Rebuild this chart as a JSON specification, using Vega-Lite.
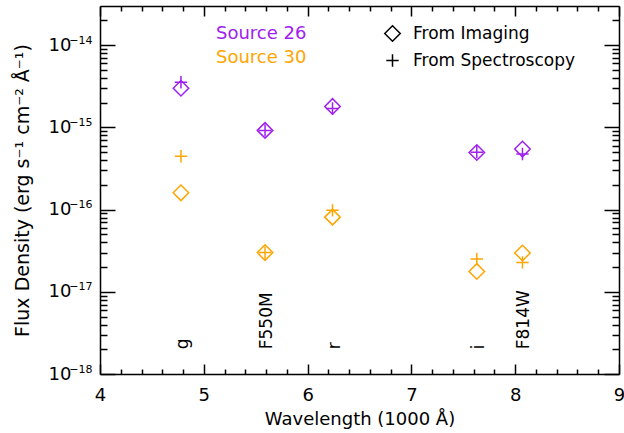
{
  "$schema": "https://vega.github.io/schema/vega-lite/v6.json",
  "autosize": {"type": "none"},
  "padding": {"left": 100, "top": 6, "right": 5, "bottom": 59},
  "width": 519,
  "height": 368,
  "background": "white",
  "config": {
    "view": {"stroke": null},
    "font": "DejaVu Sans",
    "axis": {
      "grid": false,
      "labelFont": "DejaVu Sans",
      "labelFontSize": 18,
      "labelColor": "black",
      "titleFont": "DejaVu Sans",
      "titleFontSize": 18,
      "titleFontWeight": "normal",
      "titleColor": "black",
      "domainColor": "black",
      "domainWidth": 1.5,
      "tickColor": "black",
      "tickWidth": 1.5,
      "labelFlush": false,
      "labelOverlap": false
    }
  },
  "datasets": {
    "points": [
      {"source": "Source 26", "filter": "g", "wl": 4.78, "method": "From Imaging", "flux": 3.0e-15},
      {"source": "Source 26", "filter": "g", "wl": 4.78, "method": "From Spectroscopy", "flux": 3.55e-15},
      {"source": "Source 26", "filter": "F550M", "wl": 5.59, "method": "From Imaging", "flux": 9.2e-16},
      {"source": "Source 26", "filter": "F550M", "wl": 5.59, "method": "From Spectroscopy", "flux": 9.2e-16},
      {"source": "Source 26", "filter": "r", "wl": 6.24, "method": "From Imaging", "flux": 1.8e-15},
      {"source": "Source 26", "filter": "r", "wl": 6.24, "method": "From Spectroscopy", "flux": 1.7e-15},
      {"source": "Source 26", "filter": "i", "wl": 7.63, "method": "From Imaging", "flux": 4.95e-16},
      {"source": "Source 26", "filter": "i", "wl": 7.63, "method": "From Spectroscopy", "flux": 5.0e-16},
      {"source": "Source 26", "filter": "F814W", "wl": 8.07, "method": "From Imaging", "flux": 5.45e-16},
      {"source": "Source 26", "filter": "F814W", "wl": 8.07, "method": "From Spectroscopy", "flux": 4.75e-16},
      {"source": "Source 30", "filter": "g", "wl": 4.78, "method": "From Imaging", "flux": 1.6e-16},
      {"source": "Source 30", "filter": "g", "wl": 4.78, "method": "From Spectroscopy", "flux": 4.45e-16},
      {"source": "Source 30", "filter": "F550M", "wl": 5.59, "method": "From Imaging", "flux": 3.0e-17},
      {"source": "Source 30", "filter": "F550M", "wl": 5.59, "method": "From Spectroscopy", "flux": 3.0e-17},
      {"source": "Source 30", "filter": "r", "wl": 6.24, "method": "From Imaging", "flux": 8.1e-17},
      {"source": "Source 30", "filter": "r", "wl": 6.24, "method": "From Spectroscopy", "flux": 9.8e-17},
      {"source": "Source 30", "filter": "i", "wl": 7.63, "method": "From Imaging", "flux": 1.77e-17},
      {"source": "Source 30", "filter": "i", "wl": 7.63, "method": "From Spectroscopy", "flux": 2.5e-17},
      {"source": "Source 30", "filter": "F814W", "wl": 8.07, "method": "From Imaging", "flux": 2.97e-17},
      {"source": "Source 30", "filter": "F814W", "wl": 8.07, "method": "From Spectroscopy", "flux": 2.28e-17}
    ],
    "filters": [
      {"filter": "g", "wl": 4.78},
      {"filter": "F550M", "wl": 5.59},
      {"filter": "r", "wl": 6.24},
      {"filter": "i", "wl": 7.63},
      {"filter": "F814W", "wl": 8.07}
    ]
  },
  "data": {"name": "points"},
  "layer": [
    {
      "mark": {"type": "point", "filled": false, "strokeWidth": 1.5, "opacity": 1, "size": 240},
      "encoding": {
        "x": {
          "field": "wl", "type": "quantitative",
          "scale": {"domain": [4, 9], "nice": false, "zero": false},
          "axis": {"orient": "bottom", "values": [4, 5, 6, 7, 8, 9], "format": "d", "tickSize": -10, "labelPadding": 22, "title": "Wavelength (1000 Å)", "titlePadding": 6}
        },
        "y": {
          "field": "flux", "type": "quantitative",
          "scale": {"type": "log", "domain": [1e-18, 3e-14], "nice": false},
          "axis": {"orient": "left", "values": [1e-18, 1e-17, 1e-16, 1e-15, 1e-14], "tickSize": -15, "labelExpr": "'10'", "labelPadding": 44, "title": "Flux Density (erg s⁻¹ cm⁻² Å⁻¹)", "titleFontSize": 19, "titlePadding": 16}
        },
        "color": {
          "field": "source", "type": "nominal",
          "scale": {"domain": ["Source 26", "Source 30"], "range": ["#a020f0", "#ffa500"]},
          "legend": {
            "orient": "none", "legendX": 98, "legendY": 19, "title": null, "padding": 0,
            "rowPadding": 6, "symbolType": "circle", "symbolSize": 1, "symbolOpacity": 0,
            "labelOffset": 0, "labelFont": "DejaVu Sans", "labelFontSize": 18, "labelLimit": 0,
            "labelColor": {"expr": "datum.value == 'Source 26' ? '#a020f0' : '#ffa500'"}
          }
        },
        "shape": {
          "field": "method", "type": "nominal",
          "scale": {"domain": ["From Imaging", "From Spectroscopy"], "range": ["diamond", "M-0.8,0H0.8M0,-0.8V0.8"]},
          "legend": {
            "orient": "none", "legendX": 284, "legendY": 19, "title": null, "padding": 0,
            "rowPadding": 6, "symbolSize": 240, "symbolStrokeColor": "black", "symbolFillColor": "transparent",
            "symbolStrokeWidth": 1.5, "labelOffset": 12, "labelFont": "DejaVu Sans", "labelFontSize": 17, "labelColor": "black", "labelLimit": 0
          }
        }
      }
    },
    {
      "data": {"name": "filters"},
      "mark": {"type": "text", "angle": 270, "align": "left", "baseline": "middle", "font": "DejaVu Sans", "fontSize": 17, "color": "black", "dy": 2},
      "encoding": {
        "x": {
          "field": "wl", "type": "quantitative",
          "scale": {"domain": [4, 9], "nice": false, "zero": false},
          "axis": {"orient": "bottom", "values": [4.2, 4.4, 4.6, 4.8, 5.2, 5.4, 5.6, 5.8, 6.2, 6.4, 6.6, 6.8, 7.2, 7.4, 7.6, 7.8, 8.2, 8.4, 8.6, 8.8], "tickSize": -5, "labels": false, "domain": false, "title": null}
        },
        "y": {
          "datum": 2e-18, "type": "quantitative",
          "scale": {"type": "log", "domain": [1e-18, 3e-14], "nice": false},
          "axis": {"orient": "left", "values": [1e-18, 1e-17, 1e-16, 1e-15, 1e-14], "tickSize": 0, "tickOpacity": 0, "labelFontSize": 11, "labelExpr": "'−' + format(-round(log(datum.value)/LN10), 'd')", "labelPadding": 8, "labelOffset": -5, "domain": false, "title": null}
        },
        "text": {"field": "filter"}
      }
    },
    {
      "mark": {"type": "point", "opacity": 0},
      "encoding": {
        "x": {
          "field": "wl", "type": "quantitative",
          "scale": {"domain": [4, 9], "nice": false, "zero": false},
          "axis": {"orient": "top", "values": [4, 5, 6, 7, 8, 9], "tickSize": -10, "labels": false, "title": null}
        },
        "y": {
          "field": "flux", "type": "quantitative",
          "scale": {"type": "log", "domain": [1e-18, 3e-14], "nice": false},
          "axis": {"orient": "left", "values": [2e-18, 3e-18, 4e-18, 5e-18, 6e-18, 7e-18, 8e-18, 9e-18, 2e-17, 3e-17, 4e-17, 5e-17, 6e-17, 7e-17, 8e-17, 9e-17, 2e-16, 3e-16, 4e-16, 5e-16, 6e-16, 7e-16, 8e-16, 9e-16, 2e-15, 3e-15, 4e-15, 5e-15, 6e-15, 7e-15, 8e-15, 9e-15, 2e-14], "tickSize": -7, "labels": false, "domain": false, "title": null}
        }
      }
    },
    {
      "mark": {"type": "point", "opacity": 0},
      "encoding": {
        "x": {
          "field": "wl", "type": "quantitative",
          "scale": {"domain": [4, 9], "nice": false, "zero": false},
          "axis": {"orient": "top", "values": [4.2, 4.4, 4.6, 4.8, 5.2, 5.4, 5.6, 5.8, 6.2, 6.4, 6.6, 6.8, 7.2, 7.4, 7.6, 7.8, 8.2, 8.4, 8.6, 8.8], "tickSize": -5, "labels": false, "domain": false, "title": null}
        },
        "y": {
          "field": "flux", "type": "quantitative",
          "scale": {"type": "log", "domain": [1e-18, 3e-14], "nice": false},
          "axis": {"orient": "right", "values": [1e-18, 1e-17, 1e-16, 1e-15, 1e-14], "tickSize": -15, "labels": false, "title": null}
        }
      }
    },
    {
      "mark": {"type": "point", "opacity": 0},
      "encoding": {
        "x": {
          "field": "wl", "type": "quantitative",
          "scale": {"domain": [4, 9], "nice": false, "zero": false},
          "axis": null
        },
        "y": {
          "field": "flux", "type": "quantitative",
          "scale": {"type": "log", "domain": [1e-18, 3e-14], "nice": false},
          "axis": {"orient": "right", "values": [2e-18, 3e-18, 4e-18, 5e-18, 6e-18, 7e-18, 8e-18, 9e-18, 2e-17, 3e-17, 4e-17, 5e-17, 6e-17, 7e-17, 8e-17, 9e-17, 2e-16, 3e-16, 4e-16, 5e-16, 6e-16, 7e-16, 8e-16, 9e-16, 2e-15, 3e-15, 4e-15, 5e-15, 6e-15, 7e-15, 8e-15, 9e-15, 2e-14], "tickSize": -7, "labels": false, "domain": false, "title": null}
        }
      }
    }
  ],
  "resolve": {"axis": {"x": "independent", "y": "independent"}}
}
